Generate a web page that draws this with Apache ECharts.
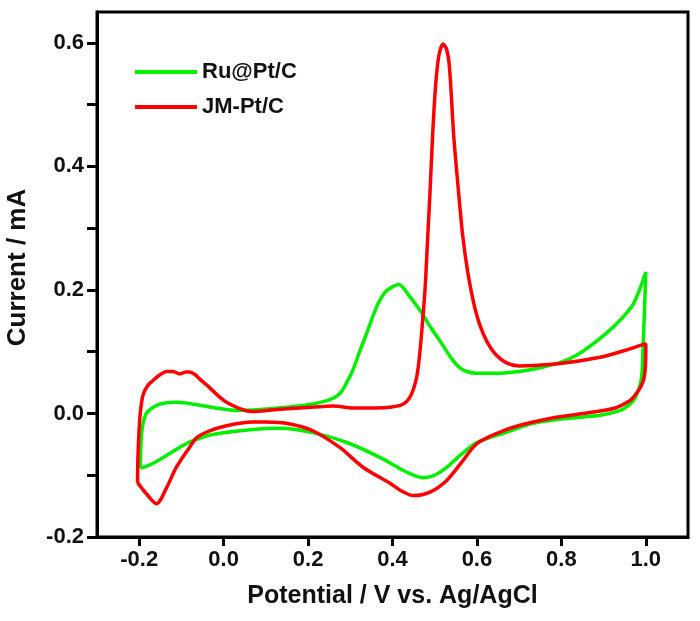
<!DOCTYPE html>
<html>
<head>
<meta charset="utf-8">
<script src="https://cdn.jsdelivr.net/npm/echarts@6/dist/echarts.min.js"></script>
<style>
  html, body { margin: 0; padding: 0; background: #fff; }
  #cv { width: 700px; height: 621px; }
</style>
</head>
<body>
<div id="cv"></div>
<script>
// 数据：电位(V) / 电流(mA)
var ruPtC = [
  [-0.197,-0.089],[-0.196,-0.05],[-0.192,-0.02],[-0.183,0.0],[-0.165,0.011],[-0.14,0.017],
  [-0.11,0.018],[-0.07,0.015],[-0.02,0.009],[0.03,0.005],[0.08,0.006],[0.15,0.01],
  [0.2,0.014],[0.25,0.022],[0.275,0.032],[0.29,0.048],[0.306,0.07],[0.322,0.1],
  [0.339,0.13],[0.362,0.172],[0.382,0.196],[0.4,0.205],[0.415,0.209],[0.44,0.19],
  [0.465,0.167],[0.49,0.14],[0.512,0.118],[0.543,0.086],[0.56,0.074],[0.576,0.068],
  [0.6,0.065],[0.638,0.065],[0.7,0.068],[0.75,0.074],[0.8,0.083],[0.84,0.096],
  [0.876,0.113],[0.91,0.132],[0.932,0.146],[0.955,0.163],[0.971,0.178],[0.985,0.2],
  [1.0,0.229],
  [0.996,0.15],[0.993,0.1],[0.99,0.058],[0.981,0.035],[0.971,0.021],[0.955,0.011],
  [0.94,0.005],[0.892,-0.003],[0.813,-0.008],[0.733,-0.016],[0.671,-0.03],[0.6,-0.047],
  [0.56,-0.068],[0.529,-0.087],[0.5,-0.1],[0.472,-0.104],[0.45,-0.1],[0.425,-0.092],
  [0.37,-0.071],[0.292,-0.047],[0.211,-0.031],[0.133,-0.024],[0.069,-0.026],[-0.026,-0.034],
  [-0.073,-0.044],[-0.1,-0.053],[-0.128,-0.065],[-0.168,-0.081],[-0.197,-0.089]
];
var jmPtC = [
  [-0.204,-0.112],[-0.203,-0.07],[-0.2,-0.023],[-0.196,0.01],[-0.19,0.032],[-0.18,0.045],
  [-0.168,0.053],[-0.15,0.063],[-0.135,0.068],[-0.12,0.068],[-0.104,0.064],[-0.09,0.067],
  [-0.081,0.067],[-0.068,0.063],[-0.057,0.056],[-0.04,0.046],[-0.026,0.037],[-0.01,0.027],
  [0.007,0.018],[0.038,0.008],[0.069,0.003],[0.12,0.006],[0.18,0.009],[0.228,0.011],
  [0.26,0.012],[0.306,0.009],[0.36,0.009],[0.418,0.013],[0.441,0.026],[0.457,0.058],
  [0.465,0.1],[0.47,0.139],[0.477,0.2],[0.483,0.28],[0.489,0.36],[0.495,0.45],
  [0.502,0.53],[0.51,0.58],[0.52,0.598],[0.528,0.59],[0.535,0.56],[0.545,0.45],
  [0.555,0.37],[0.566,0.29],[0.578,0.23],[0.592,0.18],[0.606,0.145],[0.624,0.116],
  [0.645,0.095],[0.67,0.082],[0.7,0.077],[0.797,0.081],
  [0.892,0.091],[0.95,0.102],[1.0,0.113],
  [0.999,0.075],[0.995,0.055],[0.987,0.042],[0.975,0.03],[0.963,0.021],[0.923,0.008],
  [0.852,0.0],[0.773,-0.008],[0.702,-0.019],[0.655,-0.03],[0.6,-0.049],[0.565,-0.078],
  [0.529,-0.108],[0.49,-0.127],[0.449,-0.133],[0.42,-0.125],[0.394,-0.113],[0.33,-0.087],
  [0.275,-0.055],[0.211,-0.028],[0.157,-0.017],[0.1,-0.014],[0.069,-0.014],[0.007,-0.02],
  [-0.04,-0.03],[-0.065,-0.04],[-0.081,-0.055],[-0.112,-0.087],[-0.135,-0.12],[-0.159,-0.146],
  [-0.183,-0.13],[-0.204,-0.112]
];
var xTicks = [-0.2, 0.0, 0.2, 0.4, 0.6, 0.8, 1.0];
var yLabels = [-0.2, 0.0, 0.2, 0.4, 0.6];
var yTicks = [-0.2, -0.1, 0.0, 0.1, 0.2, 0.3, 0.4, 0.5, 0.6];

var font = '"Liberation Sans", Arial, sans-serif';
var chart = echarts.init(document.getElementById('cv'));

var option = {
    animation: false,
    backgroundColor: '#fff',
    grid: {
        left: 97, right: 12, top: 12, bottom: 84,
        show: true, borderColor: '#000', borderWidth: 3,
        outerBoundsMode: 'none'
    },
    legend: {
        orient: 'vertical',
        left: 135, top: 60, padding: 0,
        itemWidth: 62, itemHeight: 4, itemGap: 11,
        icon: 'rect',
        textStyle: { fontFamily: font, fontWeight: 'bold', fontSize: 22, color: '#111', lineHeight: 24 },
        data: ['Ru@Pt/C', 'JM-Pt/C']
    },
    xAxis: {
        type: 'value', min: -0.3, max: 1.1,
        name: 'Potential / V vs. Ag/AgCl', nameLocation: 'middle', nameGap: 47,
        nameTextStyle: { fontFamily: font, fontWeight: 'bold', fontSize: 25, color: '#111' },
        axisLine: { show: true, onZero: false, lineStyle: { color: '#000', width: 3 } },
        axisTick: { show: true, length: 9, lineStyle: { color: '#000', width: 3 }, customValues: xTicks },
        axisLabel: {
            customValues: xTicks, margin: 12,
            fontFamily: font, fontWeight: 'bold', fontSize: 22, color: '#111',
            formatter: function (v) { return v.toFixed(1); }
        },
        splitLine: { show: false }
    },
    yAxis: {
        type: 'value', min: -0.2, max: 0.65,
        name: 'Current / mA', nameLocation: 'middle', nameGap: 66,
        nameTextStyle: { fontFamily: font, fontWeight: 'bold', fontSize: 26, color: '#111', padding: [0, 0, 0, 14] },
        axisLine: { show: true, onZero: false, lineStyle: { color: '#000', width: 3 } },
        axisTick: { show: true, length: 10, lineStyle: { color: '#000', width: 3 }, customValues: yTicks },
        axisLabel: {
            customValues: yLabels, margin: 13,
            fontFamily: font, fontWeight: 'bold', fontSize: 22, color: '#111',
            formatter: function (v) { return v.toFixed(1); }
        },
        splitLine: { show: false }
    },
    series: [
        {
            name: 'Ru@Pt/C', type: 'line', data: ruPtC,
            smooth: 0.3, showSymbol: false, symbol: 'none',
            lineStyle: { color: '#00f000', width: 3.5 },
            itemStyle: { color: '#00f000' }
        },
        {
            name: 'JM-Pt/C', type: 'line', data: jmPtC,
            smooth: 0.3, showSymbol: false, symbol: 'none',
            lineStyle: { color: '#ff0000', width: 3.5 },
            itemStyle: { color: '#ff0000' }
        }
    ]
};
chart.setOption(option);
</script>
</body>
</html>
